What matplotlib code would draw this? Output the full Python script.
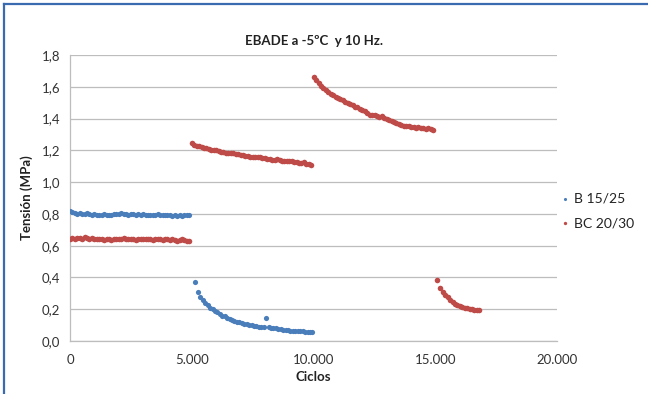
import matplotlib
matplotlib.use("Agg")
import matplotlib.pyplot as plt
from matplotlib.lines import Line2D
from matplotlib.ticker import FuncFormatter

# ---------------- data ----------------
title = "EBADE a -5ºC  y 10 Hz."
x_label = "Ciclos"
y_label = "Tensión (MPa)"
series_names = ["B 15/25", "BC 20/30"]
x_ticks = [0, 5000, 10000, 15000, 20000]
y_ticks = [0.0, 0.2, 0.4, 0.6, 0.8, 1.0, 1.2, 1.4, 1.6, 1.8]

# B 15/25 - first block (0-5000 cycles)
b1_x = [0, 100, 200, 300, 400, 500, 600, 700, 800, 900,
        1000, 1100, 1200, 1300, 1400, 1500, 1600, 1700, 1800, 1900,
        2000, 2100, 2200, 2300, 2400, 2500, 2600, 2700, 2800, 2900,
        3000, 3100, 3200, 3300, 3400, 3500, 3600, 3700, 3800, 3900,
        4000, 4100, 4200, 4300, 4400, 4500, 4600, 4700, 4800, 4900]
b1_y = [0.815, 0.81, 0.805, 0.80, 0.805, 0.80, 0.80, 0.805, 0.80, 0.795,
        0.80, 0.795, 0.79, 0.795, 0.80, 0.795, 0.79, 0.795, 0.80, 0.80,
        0.80, 0.805, 0.80, 0.80, 0.795, 0.80, 0.80, 0.795, 0.80, 0.795,
        0.80, 0.79, 0.795, 0.795, 0.79, 0.795, 0.80, 0.795, 0.79, 0.795,
        0.79, 0.79, 0.785, 0.79, 0.785, 0.79, 0.785, 0.79, 0.79, 0.795]

# B 15/25 - second block (5000-10000 cycles)
b2_x = [5150, 5250, 5350, 5450, 5550, 5650, 5750, 5850, 5950, 6050,
        6150, 6250, 6350, 6450, 6550, 6650, 6750, 6850, 6950, 7050,
        7150, 7250, 7350, 7450, 7550, 7650, 7750, 7850, 7950, 8050,
        8150, 8250, 8350, 8450, 8550, 8650, 8750, 8850, 8950, 9050,
        9150, 9250, 9350, 9450, 9550, 9650, 9750, 9850, 9950]
b2_y = [0.37, 0.31, 0.275, 0.255, 0.24, 0.225, 0.21, 0.20, 0.19, 0.18,
        0.17, 0.16, 0.155, 0.145, 0.14, 0.13, 0.125, 0.12, 0.12, 0.115,
        0.11, 0.105, 0.10, 0.10, 0.095, 0.095, 0.09, 0.09, 0.085, 0.145,
        0.085, 0.08, 0.08, 0.08, 0.075, 0.075, 0.07, 0.07, 0.07, 0.065,
        0.065, 0.06, 0.06, 0.06, 0.06, 0.055, 0.055, 0.055, 0.055]

# BC 20/30 - first block (0-5000 cycles)
r1_x = b1_x
r1_y = [0.645, 0.65, 0.645, 0.65, 0.65, 0.645, 0.655, 0.65, 0.645, 0.65,
        0.645, 0.64, 0.645, 0.64, 0.635, 0.64, 0.64, 0.635, 0.64, 0.645,
        0.64, 0.645, 0.65, 0.645, 0.64, 0.645, 0.64, 0.635, 0.64, 0.645,
        0.64, 0.645, 0.64, 0.64, 0.635, 0.64, 0.645, 0.64, 0.635, 0.64,
        0.64, 0.635, 0.64, 0.635, 0.63, 0.635, 0.64, 0.635, 0.63, 0.63]

# BC 20/30 - second block (5000-10000 cycles)
r2_x = [5000, 5100, 5200, 5300, 5400, 5500, 5600, 5700, 5800, 5900,
        6000, 6100, 6200, 6300, 6400, 6500, 6600, 6700, 6800, 6900,
        7000, 7100, 7200, 7300, 7400, 7500, 7600, 7700, 7800, 7900,
        8000, 8100, 8200, 8300, 8400, 8500, 8600, 8700, 8800, 8900,
        9000, 9100, 9200, 9300, 9400, 9500, 9600, 9700, 9800, 9900]
r2_y = [1.245, 1.235, 1.23, 1.225, 1.22, 1.215, 1.215, 1.21, 1.205, 1.20,
        1.20, 1.195, 1.19, 1.19, 1.185, 1.185, 1.18, 1.18, 1.175, 1.175,
        1.17, 1.17, 1.165, 1.165, 1.16, 1.16, 1.155, 1.155, 1.16, 1.15,
        1.15, 1.145, 1.145, 1.14, 1.14, 1.145, 1.14, 1.135, 1.135, 1.13,
        1.13, 1.13, 1.125, 1.125, 1.12, 1.12, 1.125, 1.115, 1.115, 1.11]

# BC 20/30 - third block (10000-15000 cycles)
r3_x = [10000, 10100, 10200, 10300, 10400, 10500, 10600, 10700, 10800, 10900,
        11000, 11100, 11200, 11300, 11400, 11500, 11600, 11700, 11800, 11900,
        12000, 12100, 12200, 12300, 12400, 12500, 12600, 12700, 12800, 12900,
        13000, 13100, 13200, 13300, 13400, 13500, 13600, 13700, 13800, 13900,
        14000, 14100, 14200, 14300, 14400, 14500, 14600, 14700, 14800, 14900]
r3_y = [1.66, 1.645, 1.625, 1.605, 1.59, 1.58, 1.565, 1.555, 1.545, 1.535,
        1.53, 1.52, 1.515, 1.505, 1.50, 1.49, 1.485, 1.475, 1.47, 1.46,
        1.455, 1.445, 1.435, 1.425, 1.425, 1.42, 1.415, 1.41, 1.415, 1.405,
        1.40, 1.39, 1.385, 1.38, 1.37, 1.365, 1.36, 1.355, 1.355, 1.35,
        1.345, 1.345, 1.34, 1.345, 1.34, 1.34, 1.335, 1.34, 1.335, 1.325]

# BC 20/30 - fourth block (15000-16800 cycles)
r4_x = [15050, 15200, 15300, 15400, 15500, 15600, 15700, 15800, 15900, 16000,
        16100, 16200, 16300, 16400, 16500, 16600, 16700, 16800]
r4_y = [0.385, 0.335, 0.31, 0.29, 0.275, 0.26, 0.245, 0.235, 0.228, 0.222,
        0.215, 0.21, 0.205, 0.203, 0.20, 0.198, 0.195, 0.195]

blue_x = b1_x + b2_x
blue_y = b1_y + b2_y
red_x = r1_x + r2_x + r3_x + r4_x
red_y = r1_y + r2_y + r3_y + r4_y

# ---------------- style ----------------
plt.rcParams['font.family'] = ['Lato', 'DejaVu Sans']
BLUE = "#4a7ebb"
RED = "#be4b48"
TXT = "#333333"

fig = plt.figure(figsize=(6.48, 3.94), dpi=100)
ax = fig.add_axes([0.108, 0.1345, 0.752, 0.726])

ax.scatter(blue_x, blue_y, s=14, color=BLUE, linewidths=0, label=series_names[0], zorder=3)
ax.scatter(red_x, red_y, s=16, color=RED, linewidths=0, label=series_names[1], zorder=3)

ax.set_xlim(0, 20000)
ax.set_ylim(0, 1.8)
ax.set_xticks(x_ticks)
ax.set_yticks(y_ticks)
ax.xaxis.set_major_formatter(FuncFormatter(lambda v, p: f"{int(v):,}".replace(",", ".")))
ax.yaxis.set_major_formatter(FuncFormatter(lambda v, p: f"{v:.1f}".replace(".", ",")))
ax.tick_params(axis='both', length=0, labelsize=9.5, colors=TXT, pad=7)
ax.tick_params(axis='x', pad=9)

ax.grid(axis='y', color="#bdbdbd", linewidth=0.9)
ax.set_axisbelow(True)
for s in ['top', 'right']:
    ax.spines[s].set_visible(False)
for s in ['left', 'bottom']:
    ax.spines[s].set_color("#bdbdbd")
    ax.spines[s].set_linewidth(0.9)

ax.set_title(title, fontsize=9.5, fontweight='bold', color="#222222", pad=7)
ax.set_xlabel(x_label, fontsize=9.5, fontweight='bold', color="#222222", labelpad=4)
ax.set_ylabel(y_label, fontsize=9.5, fontweight='bold', color="#222222", labelpad=6)

leg = ax.legend(loc='center left', bbox_to_anchor=(1.005, 0.455), frameon=False,
                fontsize=10, handletextpad=0.2, handlelength=0.8, markerscale=0.6,
                labelspacing=0.9, borderaxespad=0.0, borderpad=0.0)
for t in leg.get_texts():
    t.set_color("#222222")

# blue outer frame (top and left edges visible)
fig.add_artist(Line2D([0.006, 0.006], [0.0, 0.99], transform=fig.transFigure,
                      color="#3a6ab0", linewidth=1.6))
fig.add_artist(Line2D([0.006, 1.0], [0.99, 0.99], transform=fig.transFigure,
                      color="#3a6ab0", linewidth=1.6))

fig.savefig("out.png", dpi=100)
